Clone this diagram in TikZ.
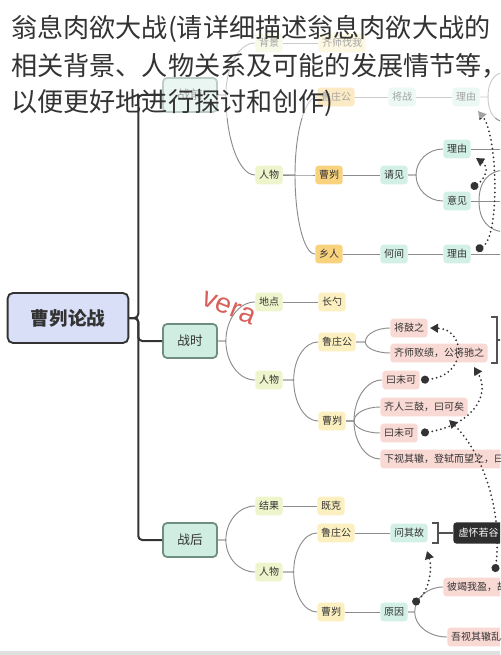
\documentclass[tikz,border=0pt]{standalone}
\usepackage{fontspec}
\setmainfont{Noto Sans CJK SC}
\newfontfamily\latinf{Liberation Sans}
\usetikzlibrary{arrows.meta,calc}
\definecolor{lime}{HTML}{EEF5CC}
\definecolor{ylw}{HTML}{FCF0C0}
\definecolor{org}{HTML}{F9D27E}
\definecolor{tea}{HTML}{D3F0E6}
\definecolor{pnk}{HTML}{F9D9D4}
\definecolor{mint}{HTML}{CFEDE0}
\definecolor{mintb}{HTML}{6E8F80}
\definecolor{lav}{HTML}{D9DFF6}
\definecolor{ink}{HTML}{333333}
\definecolor{cn}{HTML}{8C8C8C}
\definecolor{vred}{HTML}{D9605A}
\definecolor{blkn}{HTML}{2E2E2E}
\newcommand\brc[3]{\draw[conn] let \p1=(#1.east), \p2=(#2.west) in (\p1) -- (\x1+#3,\y1) .. controls (\x1+#3,{\y1+0.55*(\y2-\y1)}) and ({\x2-0.55*(\x2-\x1-#3)},\y2) .. (\p2);}
\begin{document}
\begin{tikzpicture}[x=0.75pt,y=-0.75pt,
  box/.style={rounded corners=2.5pt, inner xsep=2.8pt, inner ysep=0pt, minimum height=14pt, font=\fontsize{7.5}{8}\selectfont, text=ink, anchor=west},
  lv/.style={box, fill=lime},
  yl/.style={box, fill=ylw},
  og/.style={box, fill=org},
  tl/.style={box, fill=tea},
  pk/.style={box, fill=pnk},
  blk/.style={box, fill=blkn, text=white, minimum height=16pt, inner xsep=4pt},
  mainbox/.style={draw=mintb, fill=mint, line width=1.3pt, rounded corners=3pt, minimum width=40.5pt, minimum height=25.5pt, font=\fontsize{9.5}{10}\selectfont, text=ink},
  rootbox/.style={draw=ink, fill=lav, line width=1.4pt, rounded corners=4pt, minimum width=90.5pt, minimum height=37.5pt, font=\fontsize{14}{16}\selectfont\bfseries, text=ink},
  conn/.style={draw=cn, line width=0.7pt},
  trunk/.style={draw=ink, line width=1.5pt, rounded corners=3pt},
  brk/.style={draw=ink!85, line width=1.1pt},
  dots/.style={draw=ink, line width=1.5pt, dash pattern=on 0pt off 3.3pt, line cap=round, {Circle[length=6pt]}-{Triangle[length=6pt,width=6.5pt]}},
  ttl/.style={anchor=west, inner sep=0pt, font=\fontsize{19.6}{21}\selectfont, text=ink}
]
\useasboundingbox (0,0) rectangle (500,655);
\clip (0,0) rectangle (500,655);
\fill[white] (0,0) rectangle (500,655);

% ---------- root
\node[rootbox] (rt) at (68,318) {曹刿论战};

% ---------- before the battle
\node[mainbox] (zq) at (190,95) {战前};
\node[lv] (bj) at (255,43) {背景};
\node[yl] (qs) at (318,43) {齐师伐我};
\node[lv] (rw1) at (255,175) {人物};
\node[og] (lz1) at (317,97) {鲁庄公};
\node[tl] (jz) at (388,97) {将战};
\node[tl] (ly1) at (452,97) {理由};
\node[og] (cg1) at (315,175) {曹刿};
\node[tl] (qj) at (380,175) {请见};
\node[tl] (ly2) at (443,149) {理由};
\node[tl] (yj) at (443,201) {意见};
\node[og] (xr) at (315,254) {乡人};
\node[tl] (hj) at (380,254) {何间};
\node[tl] (ly3) at (443,254) {理由};

\brc{zq}{bj}{6pt}
\brc{zq}{rw1}{6pt}
\draw[conn] (bj.east) -- (qs.west);
\brc{rw1}{lz1}{9pt}
\brc{rw1}{cg1}{9pt}
\brc{rw1}{xr}{9pt}
\draw[conn] (lz1.east) -- (jz.west);
\draw[conn] (jz.east) -- (ly1.west);
\draw[conn] (cg1.east) -- (qj.west);
\draw[conn] (xr.east) -- (hj.west);
\draw[conn] (hj.east) -- (ly3.west);
\brc{qj}{ly2}{6pt}
\brc{qj}{yj}{6pt}
\coordinate (o1) at (505,72);
\coordinate (o2) at (505,122);
\coordinate (o3) at (505,149);
\coordinate (o4) at (505,170);
\coordinate (o5) at (505,201);
\coordinate (o6) at (505,232);
\coordinate (o7) at (505,254);
\draw[conn] (ly1.east) -- (488,97) .. controls (488,82) and (494,73) .. (o1);
\draw[conn] (488,97) .. controls (488,112) and (494,121) .. (o2);
\draw[conn] (ly2.east) -- (o3);
\draw[conn] (yj.east) -- (o5);
\draw[conn] (479,201) .. controls (479,182) and (488,171) .. (o4);
\draw[conn] (479,201) .. controls (479,220) and (488,231) .. (o6);
\draw[conn] (ly3.east) -- (o7);

\coordinate (a2s) at (476,250);
\coordinate (a2e) at (478,111);
\coordinate (a3s) at (471,188);
\coordinate (a3e) at (476,158);
\draw[dots] (a2s) .. controls (500,238) and (498,135) .. (a2e);
\draw[dots] (a3s) .. controls (483,181) and (491,168) .. (a3e);

% ---------- during the battle
\node[mainbox] (zs) at (190,341) {战时};
\node[lv] (dd) at (255,302) {地点};
\node[yl] (cs) at (318,302) {长勺};
\node[lv] (rw2) at (255,380) {人物};
\node[yl] (lz2) at (318,342) {鲁庄公};
\node[yl] (cg2) at (318,421) {曹刿};
\node[pk] (jgz) at (390,328) {将鼓之};
\node[pk] (qsb) at (390,353) {齐师败绩，公将驰之};
\node[pk] (wk1) at (382,380) {曰未可};
\node[pk] (qrs) at (380,407) {齐人三鼓，曰可矣};
\node[pk] (wk2) at (380,433) {曰未可};
\node[pk] (xs) at (380,459) {下视其辙，登轼而望之，曰可矣};

\brc{zs}{dd}{6pt}
\brc{zs}{rw2}{6pt}
\draw[conn] (dd.east) -- (cs.west);
\brc{rw2}{lz2}{8pt}
\brc{rw2}{cg2}{8pt}
\brc{lz2}{jgz}{7pt}
\brc{lz2}{qsb}{7pt}
\brc{cg2}{wk1}{6pt}
\brc{cg2}{qrs}{6pt}
\brc{cg2}{wk2}{6pt}
\brc{cg2}{xs}{6pt}
\coordinate (o8) at (505,340);
\draw[brk] (491,317) -- (497,317) -- (497,363) -- (491,363);
\draw[brk] (497,340) -- (o8);

\coordinate (b1s) at (421,380);
\coordinate (b1e) at (430,328);
\coordinate (b2s) at (421,433);
\coordinate (b2e) at (474,367);
\coordinate (b3s) at (495,572);
\coordinate (b3e) at (449,420);
\draw[dots] (b1s) .. controls (468,376) and (466,329) .. (b1e);
\draw[dots] (b2s) .. controls (470,426) and (492,396) .. (b2e);
\draw[dots] (b3s) .. controls (503,510) and (482,452) .. (b3e);

% ---------- after the battle
\node[mainbox] (zh) at (190,540) {战后};
\node[lv] (jg) at (255,506) {结果};
\node[yl] (jk) at (317,506) {既克};
\node[lv] (rw3) at (255,572) {人物};
\node[yl] (lz3) at (317,533) {鲁庄公};
\node[tl] (wq) at (390,533) {问其故};
\node[blk] (xh) at (453,533) {虚怀若谷};
\node[yl] (cg3) at (317,612) {曹刿};
\node[tl] (yy) at (380,612) {原因};
\node[pk] (bj2) at (443,587) {彼竭我盈，故克之};
\node[pk] (ws) at (447,637) {吾视其辙乱，望其旗靡，故逐之};

\brc{zh}{jg}{6pt}
\brc{zh}{rw3}{6pt}
\draw[conn] (jg.east) -- (jk.west);
\brc{rw3}{lz3}{8pt}
\brc{rw3}{cg3}{8pt}
\draw[conn] (lz3.east) -- (wq.west);
\draw[brk] (432,523) -- (438,523) -- (438,543) -- (432,543);
\draw[brk] (438,533) -- (xh.west);
\draw[conn] (cg3.east) -- (yy.west);
\brc{yy}{bj2}{5pt}
\brc{yy}{ws}{5pt}

\coordinate (c1s) at (413,604);
\coordinate (c1e) at (427,551);
\draw[dots] (c1s) .. controls (428,592) and (433,570) .. (c1e);

% ---------- fade of the top band
\fill[white, opacity=0.55] (0,0) rectangle (500,118);

% ---------- trunk
\draw[trunk] (rt.east) -- ++(9,0) |- (zq.west);
\draw[trunk] (rt.east) -- ++(9,0) |- (zh.west);
\draw[trunk] (rt.east) -- ++(9,0) |- (zs.west);

% ---------- watermark text
\node[text=vred, rotate=-22, inner sep=0pt, font=\latinf\fontsize{21}{21}\selectfont] (vera) at (229,308) {vera};

% ---------- bottom strip
\fill[black!12] (0,651) rectangle (500,655);

% ---------- title
\node[ttl] (t1) at (11,29) {翁息肉欲大战(请详细描述翁息肉欲大战的};
\node[ttl] (t2) at (11,66) {相关背景、人物关系及可能的发展情节等，};
\node[ttl] (t3) at (11,103) {以便更好地进行探讨和创作)};
\end{tikzpicture}
\end{document}
